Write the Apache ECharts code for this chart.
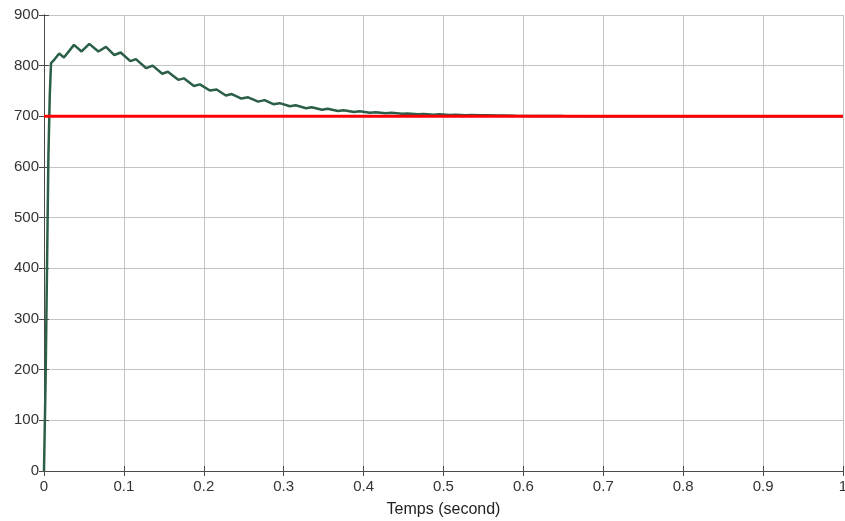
<!DOCTYPE html>
<html><head><meta charset="utf-8">
<script src="https://cdn.jsdelivr.net/npm/echarts@6/dist/echarts.min.js"></script>
<style>html,body{margin:0;padding:0;background:#fff}#c{width:845px;height:521px}</style>
</head><body><div id="c"></div>
<script>
const xTicks = [0,0.1,0.2,0.3,0.4,0.5,0.6,0.7,0.8,0.9,1];
const yTicks = [0,100,200,300,400,500,600,700,800,900];
const xLabel = 'Temps (second)';
// measured response [time, value]
const response = [
 [0,0],[0.002,180],[0.004,430],[0.0055,620],[0.0072,740],[0.0088,805],
 [0.013,812],[0.019,824],[0.025,816],[0.0375,841],[0.047,828],[0.0567,843],
 [0.068,828],[0.0776,837],[0.088,821],[0.096,826],[0.108,809],[0.115,813],
 [0.128,795],[0.136,800],[0.148,784],[0.155,788],[0.168,772],[0.175,775],
 [0.1876,760],[0.195,763],[0.2076,751],[0.216,753],[0.2276,741],[0.235,744],
 [0.247,735],[0.2555,737.5],[0.268,729],[0.276,732],[0.287,724],[0.295,726],
 [0.3077,720],[0.315,722],[0.328,716],[0.335,718],[0.348,713],[0.355,715],
 [0.368,710.5],[0.375,712],[0.388,708.5],[0.395,710],[0.408,707],[0.415,708],
 [0.428,706],[0.435,707],[0.448,705],[0.455,705.8],[0.468,704],[0.475,704.7],
 [0.488,703.3],[0.495,704],[0.508,702.8],[0.515,703.3],[0.528,702.3],[0.535,702.8],
 [0.548,702],[0.555,702.3],[0.568,701.5],[0.575,701.8],[0.59,701.2],[0.62,700.8],
 [0.65,700.5],[0.7,700.3],[0.8,700.1],[1.0,700]
];
const reference = [[0,700],[1,700]];

const chart = echarts.init(document.getElementById('c'), null, {renderer:'canvas'});
const font = 'Liberation Sans, Arial, Helvetica, sans-serif';
const axisCol = '#4a4a4a';
chart.setOption({
  animation:false,
  grid:{left:44,right:2,top:15,bottom:50,containLabel:false,outerBoundsMode:'none'},
  xAxis:[{
    type:'value',min:0,max:1,interval:0.1,
    axisLine:{show:true,onZero:false,lineStyle:{color:axisCol,width:1}},
    axisTick:{show:true,inside:true,length:5,lineStyle:{color:axisCol}},
    axisLabel:{color:'#333',fontSize:15,fontFamily:font,margin:8,
      formatter:v=>String(Math.round(v*10)/10)},
    splitLine:{show:true,lineStyle:{color:'#c4c4c4',width:1}},
    name:xLabel,nameLocation:'middle',nameGap:31,
    nameTextStyle:{color:'#222',fontSize:16,fontFamily:font}
  },{
    type:'value',min:0,max:1,interval:0.1,position:'top',
    axisLine:{show:true,lineStyle:{color:axisCol,width:1}},
    axisTick:{show:true,inside:true,length:5,lineStyle:{color:axisCol}},
    axisLabel:{show:false},splitLine:{show:false}
  }],
  yAxis:[{
    type:'value',min:0,max:900,interval:100,
    axisLine:{show:true,onZero:false,lineStyle:{color:axisCol,width:1}},
    axisTick:{show:true,inside:true,length:5,lineStyle:{color:axisCol}},
    axisLabel:{color:'#333',fontSize:15,fontFamily:font,margin:5},
    splitLine:{show:true,lineStyle:{color:'#c4c4c4',width:1}}
  },{
    type:'value',min:0,max:900,interval:100,position:'right',
    axisLine:{show:true,lineStyle:{color:axisCol,width:1}},
    axisTick:{show:true,inside:true,length:5,lineStyle:{color:axisCol}},
    axisLabel:{show:false},splitLine:{show:false}
  }],
  series:[{
    type:'line',data:response,showSymbol:false,smooth:false,
    lineStyle:{color:'#2b5f47',width:2.5},z:3
  },{
    type:'line',data:reference,showSymbol:false,
    lineStyle:{color:'#ff0000',width:3},z:4
  }]
});
</script></body></html>
